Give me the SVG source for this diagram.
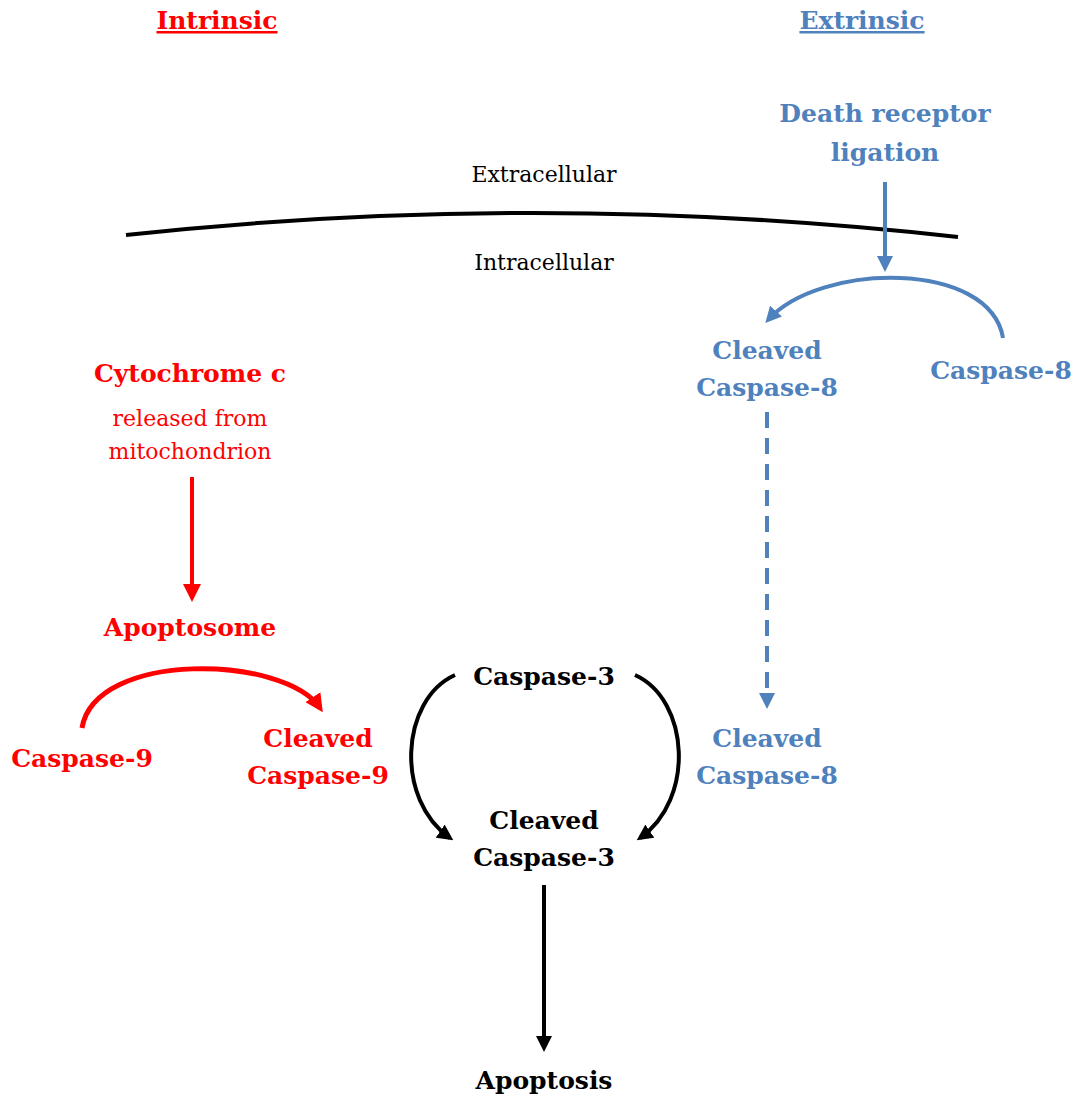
<svg xmlns="http://www.w3.org/2000/svg" width="1079" height="1096" viewBox="0 0 1079 1096">
<style>
text{font-family:"DejaVu Serif","Liberation Serif",serif;text-anchor:middle}
.b{font-weight:bold;font-size:25px}
.n{font-size:22px}
.red{fill:#FF0000}
.blue{fill:#4F81BD}
.blk{fill:#000}
.u{text-decoration:underline}
</style>
<defs>
<marker id="ab" markerWidth="16" markerHeight="16" refX="12" refY="8" orient="auto" markerUnits="userSpaceOnUse" viewBox="0 0 16 16"><path d="M0,0 L16,8 L0,16 z" fill="#4F81BD"/></marker>
<marker id="ak" markerWidth="16" markerHeight="16" refX="12" refY="8" orient="auto" markerUnits="userSpaceOnUse" viewBox="0 0 16 16"><path d="M0,0 L16,8 L0,16 z" fill="#000"/></marker>
<marker id="ar2" markerWidth="18" markerHeight="18" refX="13" refY="9" orient="auto" markerUnits="userSpaceOnUse" viewBox="0 0 18 18"><path d="M0,0 L18,9 L0,18 z" fill="#FF0000"/></marker>
</defs>
<g id="headers">
<text class="b red u" x="217" y="29">Intrinsic</text>
<text class="b blue u" x="862" y="29">Extrinsic</text>
</g>
<g id="membrane">
<path d="M126,235 Q540,190 958,237" fill="none" stroke="#000" stroke-width="4"/>
<text class="n blk" x="544" y="182">Extracellular</text>
<text class="n blk" x="544" y="270">Intracellular</text>
</g>
<g id="death-receptor"><text class="b blue" x="885" y="122">Death receptor</text><text class="b blue" x="885" y="161">ligation</text></g>
<g id="cleaved-casp8-top"><text class="b blue" x="767" y="359">Cleaved</text><text class="b blue" x="767" y="396">Caspase-8</text></g>
<g id="casp8"><text class="b blue" x="1001" y="379">Caspase-8</text></g>
<g id="cleaved-casp8-bottom"><text class="b blue" x="767" y="747">Cleaved</text><text class="b blue" x="767" y="784">Caspase-8</text></g>
<g id="cytochrome"><text class="b red" x="190" y="382">Cytochrome c</text><text class="n red" x="190" y="426">released from</text><text class="n red" x="190" y="459">mitochondrion</text></g>
<g id="apoptosome"><text class="b red" x="190" y="636">Apoptosome</text></g>
<g id="casp9"><text class="b red" x="82" y="767">Caspase-9</text></g>
<g id="cleaved-casp9"><text class="b red" x="318" y="747">Cleaved</text><text class="b red" x="318" y="784">Caspase-9</text></g>
<g id="casp3"><text class="b blk" x="544" y="685">Caspase-3</text></g>
<g id="cleaved-casp3"><text class="b blk" x="544" y="829">Cleaved</text><text class="b blk" x="544" y="866">Caspase-3</text></g>
<g id="apoptosis"><text class="b blk" x="544" y="1089">Apoptosis</text></g>
<g id="connectors" fill="none">
<path d="M885,182 L885,268" stroke="#4F81BD" stroke-width="4" marker-end="url(#ab)"/>
<path d="M1003,338 C990,260 820,262 768,320" stroke="#4F81BD" stroke-width="4" marker-end="url(#ab)"/>
<path d="M767,412 L767,705" stroke="#4F81BD" stroke-width="4" stroke-dasharray="16,10" marker-end="url(#ab)"/>
<path d="M192,477 L192,597" stroke="#FF0000" stroke-width="4" marker-end="url(#ar2)"/>
<path d="M82,728 C95,650 285,655 320,708" stroke="#FF0000" stroke-width="5" marker-end="url(#ar2)"/>
<path d="M455,675 C400,700 395,800 450,838" stroke="#000" stroke-width="4" marker-end="url(#ak)"/>
<path d="M635,675 C690,700 695,800 640,838" stroke="#000" stroke-width="4" marker-end="url(#ak)"/>
<path d="M544,885 L544,1048" stroke="#000" stroke-width="4" marker-end="url(#ak)"/>
</g>
</svg>
